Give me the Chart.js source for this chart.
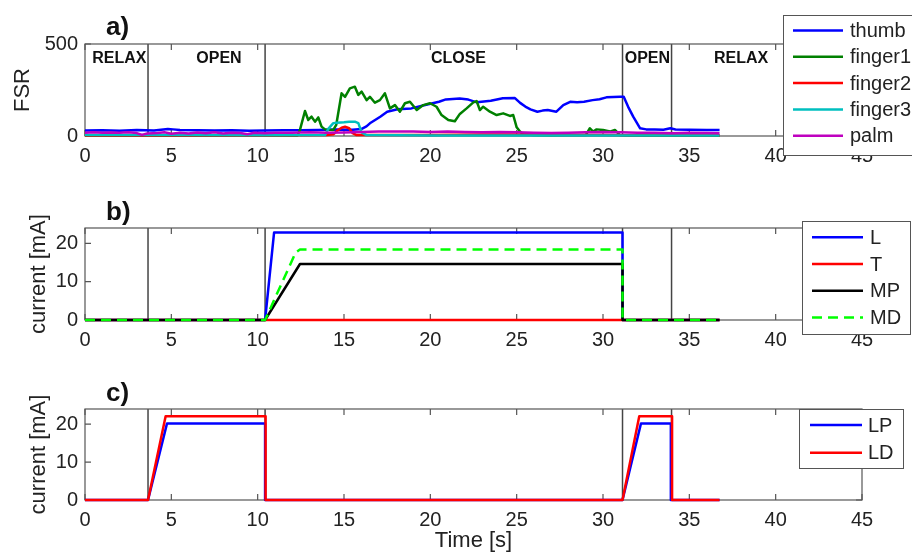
<!DOCTYPE html>
<html>
<head>
<meta charset="utf-8">
<title>FSR and stimulation currents</title>
<script src="https://cdn.jsdelivr.net/npm/chart.js@4.4.1/dist/chart.umd.min.js"></script>
<style>
    body { margin: 0; background: #fff; }
    #wrap { position: relative; width: 912px; height: 554px; overflow: hidden; }
    canvas { position: absolute; left: 0; }
</style>
</head>
<body>
<div id="wrap">
    <canvas id="panel-a" width="912" height="180" style="top:0"></canvas>
    <canvas id="panel-b" width="912" height="180" style="top:180px"></canvas>
    <canvas id="panel-c" width="912" height="194" style="top:360px"></canvas>
</div>
<script>
// Shared time axis
const timeTicks = [0, 5, 10, 15, 20, 25, 30, 35, 40, 45];
const fsrTicks = [0, 500];
const currentTicks = [0, 10, 20];

// Phase boundaries (s) and names
const phaseBounds = [3.65, 10.43, 31.13, 33.97];
const phaseNames = ['RELAX', 'OPEN', 'CLOSE', 'OPEN', 'RELAX'];

// a) FSR readings [time s, value]
const thumb = [[0,30],[1,31],[2,29],[3,32],[4,30],[4.8,38],[5.1,36],[5.5,32],[6.5,31],[7.5,30],[8.5,31],[9.5,29],[10.4,30],
    [11.5,31],[12.5,31],[13.5,33],[14.5,35],[15.5,34],[16.0,38],[16.3,52],[16.5,69],[17.1,105],[17.5,132],[18.1,145],
    [18.9,150],[19.7,168],[20.5,186],[20.9,199],[21.7,204],[22.2,198],[22.7,183],[23.1,188],[23.5,192],[24.2,205],
    [24.9,206],[25.2,180],[25.5,160],[25.8,145],[26.2,132],[26.5,138],[26.8,141],[27.3,132],[27.7,168],[28.1,186],
    [28.5,184],[28.9,186],[29.4,195],[29.8,200],[30.2,210],[30.6,212],[31.0,213],[31.2,213],[31.45,160],[31.75,105],
    [32.15,42],[32.5,36],[33.0,35],[33.5,34],[33.9,42],[34.2,35],[35,34],[36,33],[36.75,33]];
const finger1 = [[0,2],[4,2],[8,2],[12.3,3],[12.45,33],[12.74,136],[12.93,87],[13.12,105],[13.32,78],[13.51,101],[13.7,51],
    [13.9,36],[14.38,33],[14.55,60],[14.86,232],[15.06,213],[15.34,259],[15.63,268],[15.83,223],[16.02,241],[16.31,195],
    [16.5,213],[16.79,181],[17.08,195],[17.37,232],[17.66,150],[17.95,168],[18.24,132],[18.53,178],[18.82,186],[19.21,141],
    [19.59,168],[19.98,178],[20.36,159],[20.65,114],[21.04,87],[21.42,80],[21.71,120],[22.1,150],[22.49,183],[22.68,190],
    [22.87,141],[23.06,159],[23.45,132],[23.84,114],[24.22,123],[24.61,109],[24.8,114],[25.0,47],[25.19,24],[25.38,10],
    [26,5],[27,4],[28,5],[29.0,5],[29.24,42],[29.43,24],[29.63,36],[30.0,33],[30.4,24],[30.69,33],[30.98,5],[31.3,3],
    [34,2],[36.75,2]];
const finger2 = [[0,3],[5,3],[10,3],[12,4],[14.0,5],[14.4,10],[14.6,28],[14.86,45],[15.06,50],[15.3,42],[15.5,15],
    [15.7,6],[17,5],[20,6],[23,8],[25,8],[28,6],[30,5],[31.2,4],[34,4],[36.75,4]];
const finger3 = [[0,5],[5,5],[10,4],[13.9,5],[14.1,40],[14.38,70],[14.6,72],[15.0,75],[15.3,78],[15.63,78],[15.83,70],
    [16.02,20],[16.3,5],[20,3],[25,3],[30,3],[31.2,3],[34,3],[36.75,3]];
const palm = [[0,18],[0.5,20],[1,17],[1.5,19],[2,18],[2.5,20],[3,16],[3.3,6],[3.6,14],[4.2,16],[4.6,20],[5,12],[5.5,18],
    [6,14],[6.5,19],[7,15],[7.5,20],[8,14],[8.5,18],[9,16],[9.4,10],[9.8,18],[10.4,15],[11,17],[12,18],[13,20],[14,18],
    [15,19],[16,22],[17,24],[18,25],[19,24],[20,22],[21,24],[22,22],[23,20],[24,22],[25,20],[26,18],[27,16],[28,18],
    [29,21],[30,22],[31,20],[32,18],[33,17],[34,15],[35,17],[36,16],[36.75,15]];

// b) closing currents [time s, mA]
const currL = [[0,0],[10.43,0],[10.95,22.8],[31.13,22.8],[31.13,0],[36.75,0]];
const currT = [[0,0],[36.75,0]];
const currMP = [[0,0],[10.43,0],[12.45,14.6],[31.13,14.6],[31.13,0],[36.75,0]];
const currMD = [[0,0],[10.43,0],[12.2,17.6],[12.45,18.4],[31.13,18.4],[31.13,0],[36.75,0]];

// c) opening currents [time s, mA]
const currLP = [[0,0],[3.65,0],[4.75,20.2],[10.43,20.2],[10.43,0],[31.13,0],[32.2,20.2],[33.93,20.2],[33.93,0],[36.75,0]];
const currLD = [[0,0],[3.65,0],[4.67,22.1],[10.46,22.1],[10.46,0],[31.13,0],[32.1,22.1],[34.0,22.1],[34.0,0],[36.75,0]];

const FONT = "'Liberation Sans', Arial, Helvetica, sans-serif";
Chart.defaults.font.family = FONT;
Chart.defaults.color = '#222';

function series(label, pts, color, order, dash) {
    return {
        label,
        data: pts.map(([x, y]) => ({ x, y })),
        borderColor: color,
        borderWidth: 2.5,
        borderDash: dash || [],
        borderJoinStyle: 'round',
        pointRadius: 0,
        tension: 0,
        fill: false,
        clip: 4,
        order
    };
}

// MATLAB-like box, inward ticks, phase lines, labels and legend
const matlabAxes = {
    id: 'matlabAxes',
    beforeDatasetsDraw(chart) {
        const { ctx, chartArea: a, scales: { x, y } } = chart;
        ctx.save();
        ctx.strokeStyle = '#444';
        ctx.lineWidth = 1.5;
        phaseBounds.forEach(t => {
            const px = x.getPixelForValue(t);
            ctx.beginPath();
            ctx.moveTo(px, a.top);
            ctx.lineTo(px, a.bottom);
            ctx.stroke();
        });

        // box and ticks sit under the data lines
        ctx.strokeStyle = '#555';
        ctx.lineWidth = 1.2;
        ctx.strokeRect(a.left, a.top, a.right - a.left, a.bottom - a.top);
        ctx.beginPath();
        x.ticks.forEach(t => {
            const px = x.getPixelForValue(t.value);
            ctx.moveTo(px, a.top); ctx.lineTo(px, a.top + 6);
            ctx.moveTo(px, a.bottom); ctx.lineTo(px, a.bottom - 6);
        });
        y.ticks.forEach(t => {
            const py = y.getPixelForValue(t.value);
            ctx.moveTo(a.left, py); ctx.lineTo(a.left + 6, py);
            ctx.moveTo(a.right, py); ctx.lineTo(a.right - 6, py);
        });
        ctx.stroke();
        ctx.restore();
    },
    afterDraw(chart, args, opts) {
        const { ctx, scales: { x } } = chart;
        ctx.save();
        ctx.fillStyle = '#111';
        ctx.textBaseline = 'middle';

        // panel letter
        ctx.font = 'bold 26px ' + FONT;
        ctx.textAlign = 'left';
        ctx.fillText(opts.letter, 106, opts.letterY);

        // phase names
        if (opts.phaseX) {
            ctx.font = 'bold 16px ' + FONT;
            ctx.textAlign = 'center';
            phaseNames.forEach((name, i) => {
                ctx.fillText(name, x.getPixelForValue(opts.phaseX[i]), opts.phaseY);
            });
        }

        // legend box
        const lg = opts.legend;
        ctx.fillStyle = '#fff';
        ctx.fillRect(lg.left, lg.top, lg.right - lg.left, lg.bottom - lg.top);
        ctx.strokeStyle = '#555';
        ctx.lineWidth = 1;
        ctx.strokeRect(lg.left + 0.5, lg.top + 0.5, lg.right - lg.left, lg.bottom - lg.top);
        ctx.font = '20px ' + FONT;
        ctx.textAlign = 'left';
        chart.data.datasets.forEach((ds, i) => {
            const ry = lg.rowY + i * lg.rowGap;
            ctx.strokeStyle = ds.borderColor;
            ctx.lineWidth = 2.5;
            ctx.setLineDash(ds.borderDash);
            ctx.beginPath();
            ctx.moveTo(lg.lineX0, ry);
            ctx.lineTo(lg.lineX1, ry);
            ctx.stroke();
            ctx.setLineDash([]);
            ctx.fillStyle = '#222';
            ctx.fillText(ds.label, lg.textX, ry + 1);
        });
        ctx.restore();
    }
};

function makePanel(id, datasets, cfg) {
    return new Chart(document.getElementById(id), {
        type: 'line',
        data: { datasets },
        options: {
            responsive: false,
            devicePixelRatio: 1,
            animation: false,
            layout: { padding: { top: cfg.padTop, right: 50, left: 0, bottom: 0 } },
            plugins: {
                legend: { display: false },
                tooltip: { enabled: false },
                matlabAxes: cfg.frame
            },
            scales: {
                x: {
                    type: 'linear',
                    min: 0,
                    max: 45,
                    afterBuildTicks: s => { s.ticks = timeTicks.map(v => ({ value: v })); },
                    afterFit: s => { s.height = cfg.xHeight; },
                    grid: { display: false, drawTicks: false },
                    border: { display: false },
                    ticks: { padding: 8, font: { size: 20 }, color: '#222', maxRotation: 0 },
                    title: cfg.xTitle
                        ? { display: true, text: cfg.xTitle, font: { size: 22 }, color: '#222', padding: { top: 0, bottom: 0 } }
                        : { display: false }
                },
                y: {
                    type: 'linear',
                    min: 0,
                    max: cfg.yMax,
                    afterBuildTicks: s => { s.ticks = cfg.yTicks.map(v => ({ value: v })); },
                    afterFit: s => { s.width = 85; },
                    grid: { display: false, drawTicks: false },
                    border: { display: false },
                    ticks: { padding: 7, font: { size: 20 }, color: '#222' },
                    title: { display: true, text: cfg.yTitle, font: { size: 22 }, color: '#222', padding: { top: cfg.yTitlePad, bottom: 0 } }
                }
            }
        },
        plugins: [matlabAxes]
    });
}

document.addEventListener('DOMContentLoaded', function () {
    makePanel('panel-a', [
        series('thumb', thumb, '#0000ff', 4),
        series('finger1', finger1, '#008000', 3),
        series('finger2', finger2, '#ff0000', 2),
        series('finger3', finger3, '#00bfbf', 1),
        series('palm', palm, '#bf00bf', 0)
    ], {
        padTop: 44, xHeight: 44, yMax: 500, yTicks: fsrTicks, yTitle: 'FSR', yTitlePad: 10,
        frame: {
            letter: 'a)', letterY: 28,
            phaseX: [1.99, 7.76, 21.63, 32.57, 38.0], phaseY: 59,
            legend: { left: 783, top: 15, right: 930, bottom: 155, rowY: 30.5, rowGap: 26.3, lineX0: 793, lineX1: 843, textX: 850 }
        }
    });

    makePanel('panel-b', [
        series('L', currL, '#0000ff', 3),
        series('T', currT, '#ff0000', 2),
        series('MP', currMP, '#000000', 1),
        series('MD', currMD, '#00ff00', 0, [10, 6])
    ], {
        padTop: 48, xHeight: 40, yMax: 24, yTicks: currentTicks, yTitle: 'current [mA]', yTitlePad: 26,
        frame: {
            letter: 'b)', letterY: 33,
            legend: { left: 802, top: 41, right: 910, bottom: 154, rowY: 57.3, rowGap: 26.7, lineX0: 812, lineX1: 863, textX: 870 }
        }
    });

    makePanel('panel-c', [
        series('LP', currLP, '#0000ff', 1),
        series('LD', currLD, '#ff0000', 0)
    ], {
        padTop: 49, xHeight: 54, yMax: 24, yTicks: currentTicks, yTitle: 'current [mA]', yTitlePad: 26, xTitle: 'Time [s]',
        frame: {
            letter: 'c)', letterY: 34,
            legend: { left: 799, top: 49, right: 903, bottom: 108, rowY: 65, rowGap: 27.7, lineX0: 810, lineX1: 862, textX: 868 }
        }
    });
});
</script>
</body>
</html>
